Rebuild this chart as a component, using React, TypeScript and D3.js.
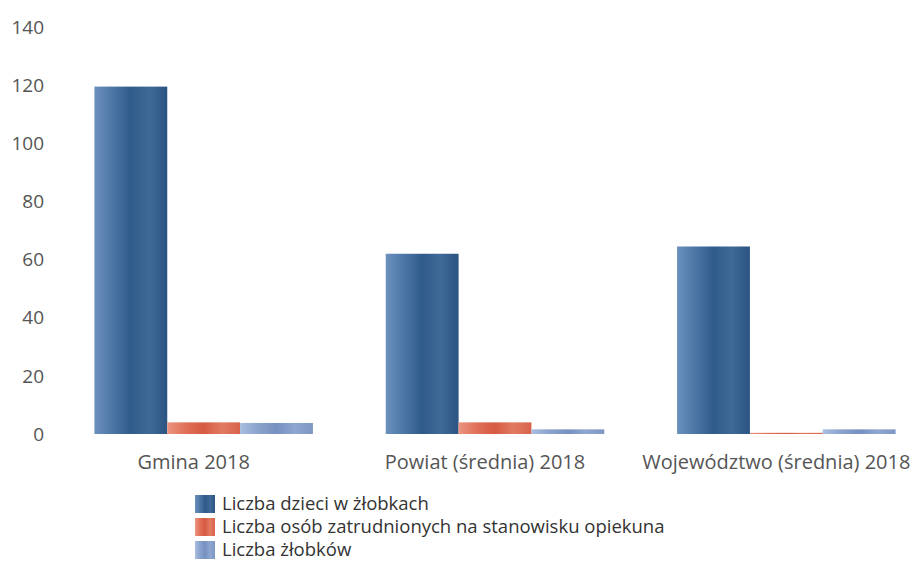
import React from "react";
import * as d3 from "d3";

const categories = ["Gmina 2018", "Powiat (średnia) 2018", "Województwo (średnia) 2018"];
const seriesNames = [
  "Liczba dzieci w żłobkach",
  "Liczba osób zatrudnionych na stanowisku opiekuna",
  "Liczba żłobków",
];
const dzieci = [119.5, 62, 64.5];
const opiekunowie = [4, 4, 0.4];
const zlobki = [3.8, 1.6, 1.6];
const yTicks = [0, 20, 40, 60, 80, 100, 120, 140];

const seriesValues = [dzieci, opiekunowie, zlobki];
// gradient stops for the cylinder look
const gradients = [
  ["#6b90bd", "#4c76a6", "#2f5b8b", "#3f6996", "#2b5482"],
  ["#eb9580", "#e07058", "#d65a42", "#e27a62", "#d8634b"],
  ["#a9bde0", "#8aa3cd", "#7690c0", "#8ea7d1", "#7d96c3"],
];

const W = 915;
const H = 564;
const font = "'Open Sans', sans-serif";
const textColor = "#555";

export default function App() {
  const y = d3.scaleLinear().domain([0, 140]).range([434, 27]);
  const x0 = d3.scaleBand<string>().domain(categories).range([58, 932]);
  const x1 = d3
    .scaleBand<number>()
    .domain([0, 1, 2])
    .range([0, x0.bandwidth()])
    .paddingOuter(0.5);

  return (
    <svg width={W} height={H} style={{ position: "absolute", left: 0, top: 0, background: "#fff" }}>
      <defs>
        {gradients.map((g, i) => (
          <linearGradient key={i} id={"grad" + i} x1="0" x2="1" y1="0" y2="0">
            {g.map((c, j) => (
              <stop key={j} offset={`${(j / (g.length - 1)) * 100}%`} stopColor={c} />
            ))}
          </linearGradient>
        ))}
      </defs>
      {yTicks.map((t) => (
        <text
          key={t}
          x={44}
          y={y(t)}
          dy="0.35em"
          textAnchor="end"
          fontFamily={font}
          fontSize={19}
          fill={textColor}
        >
          {t}
        </text>
      ))}
      {categories.map((c, ci) => (
        <g key={c} transform={`translate(${x0(c)},0)`}>
          {seriesValues.map((vals, si) => (
            <rect
              key={si}
              x={x1(si)}
              y={y(vals[ci])}
              width={x1.bandwidth()}
              height={y(0) - y(vals[ci])}
              fill={`url(#grad${si})`}
            />
          ))}
          <text
            x={x0.bandwidth() / 2 - 10}
            y={469}
            textAnchor="middle"
            fontFamily={font}
            fontSize={20}
            fill={textColor}
          >
            {c}
          </text>
        </g>
      ))}
      {seriesNames.map((s, i) => (
        <g key={s} transform={`translate(195,${495 + i * 23})`}>
          <rect width={20} height={18} fill={`url(#grad${i})`} />
          <text x={27} y={9} dy="0.35em" fontFamily={font} fontSize={18.5} fill="#333">
            {s}
          </text>
        </g>
      ))}
    </svg>
  );
}
